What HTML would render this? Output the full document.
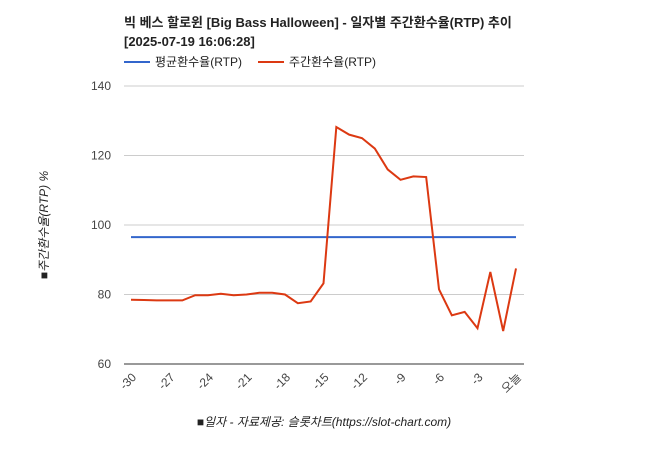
<!DOCTYPE html>
<html><head><meta charset="utf-8"><style>
body{margin:0;background:#fff;width:648px;height:450px;overflow:hidden;font-family:"Liberation Sans","Noto Sans CJK KR",sans-serif}
</style></head><body>
<svg width="648" height="450" style="font-family:'Liberation Sans','Noto Sans CJK KR',sans-serif">
<text x="124" y="27" font-size="13" font-weight="bold" fill="#222">빅 베스 할로윈 [Big Bass Halloween] - 일자별 주간환수율(RTP) 추이</text>
<text x="124" y="46" font-size="13" font-weight="bold" fill="#222">[2025-07-19 16:06:28]</text>
<g><line x1="124" y1="62" x2="150" y2="62" stroke="#3366cc" stroke-width="2"/><text x="155" y="66" font-size="12" fill="#222">평균환수율(RTP)</text></g>
<g><line x1="258" y1="62" x2="284" y2="62" stroke="#dc3912" stroke-width="2"/><text x="289" y="66" font-size="12" fill="#222">주간환수율(RTP)</text></g>
<g id="grid"></g><g id="plot"></g>
<text transform="translate(48,225) rotate(-90)" text-anchor="middle" font-size="12" font-style="italic" fill="#222">■주간환수율(RTP) %</text>
<text x="324" y="426" text-anchor="middle" font-size="12" font-style="italic" fill="#222">■일자 - 자료제공: 슬롯차트(https://slot-chart.com)</text>
</svg>
<script>
const days=[-30,-29,-28,-27,-26,-25,-24,-23,-22,-21,-20,-19,-18,-17,-16,-15,-14,-13,-12,-11,-10,-9,-8,-7,-6,-5,-4,-3,-2,-1,0];
const weekly=[78.5,78.4,78.3,78.3,78.3,79.8,79.8,80.2,79.8,80.0,80.5,80.5,80.0,77.5,78.0,83.2,128.2,126,125,122,116,113,114,113.8,81.5,74,75,70.3,86.5,69.5,87.5];
const average=96.5;
const yTicks=[60,80,100,120,140];
const xTickDays=[-30,-27,-24,-21,-18,-15,-12,-9,-6,-3,0];
const NS="http://www.w3.org/2000/svg";
const X=d=>131+(d+30)*(516-131)/30;
const Y=v=>364-(v-60)*(278/80);
const grid=document.getElementById('grid'),plot=document.getElementById('plot');
function mk(tag,at,par){const e=document.createElementNS(NS,tag);for(const k in at)e.setAttribute(k,at[k]);par.appendChild(e);return e;}
yTicks.forEach(v=>{
 const l=mk('line',{x1:124,x2:524,y1:Y(v),y2:Y(v),stroke:v===60?'#333':'#ccc','stroke-width':1},grid);
 
 
 const t=mk('text',{x:111,y:Y(v)+4,'text-anchor':'end','font-size':12,fill:'#444'},grid);t.textContent=v;
 
 
});
xTickDays.forEach(d=>{
 const t=mk('text',{'text-anchor':'end','font-size':12,fill:'#444',transform:`translate(${X(d)+6},${378}) rotate(-45)`},grid);
 t.textContent=d===0?'오늘':String(d);
 
 
});
const a=mk('line',{x1:X(days[0]),x2:X(days[days.length-1]),y1:Y(average),y2:Y(average),stroke:'#3366cc','stroke-width':2},plot);


const p=mk('polyline',{points:days.map((d,i)=>X(d)+','+Y(weekly[i])).join(' '),fill:'none',stroke:'#dc3912','stroke-width':2},plot);


</script>
</body></html>
